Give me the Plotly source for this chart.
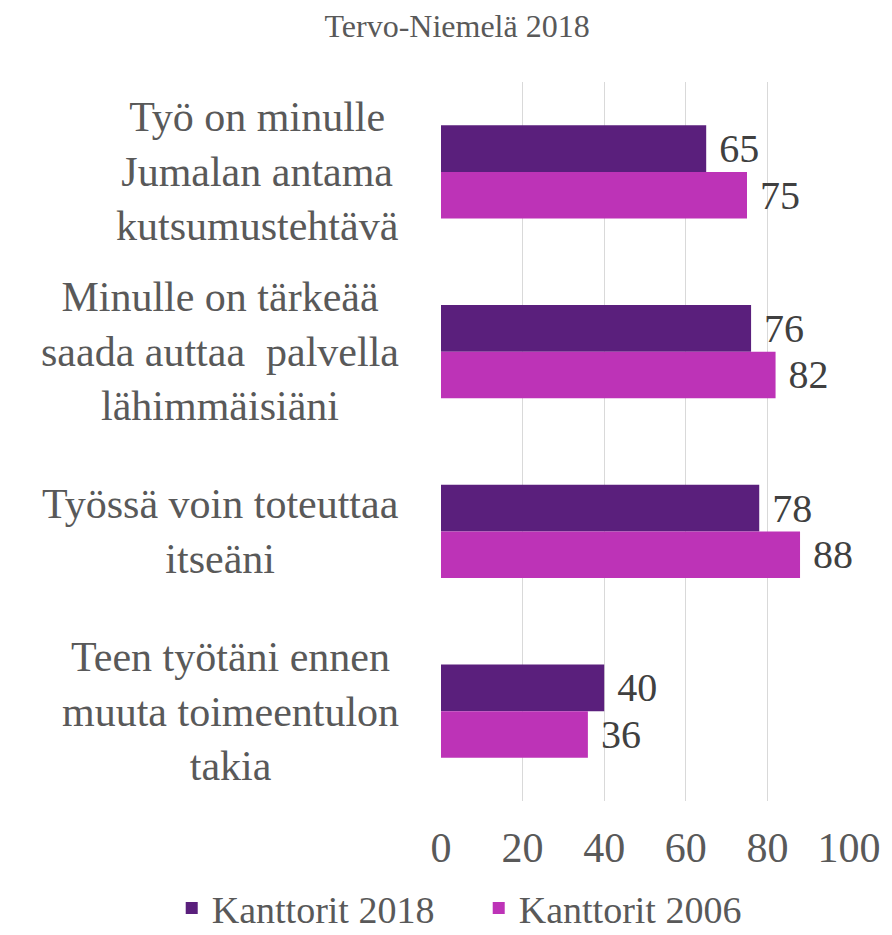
import plotly.graph_objects as go

categories = [
    "Työ on minulle<br>Jumalan antama<br>kutsumustehtävä",
    "Minulle on tärkeää<br>saada auttaa  palvella<br>lähimmäisiäni",
    "Työssä voin toteuttaa<br>itseäni",
    "Teen työtäni ennen<br>muuta toimeentulon<br>takia",
]
cat_ids = ["c1", "c2", "c3", "c4"]
kanttorit_2018 = [65, 76, 78, 40]
kanttorit_2006 = [75, 82, 88, 36]
series_names = ["Kanttorit 2018", "Kanttorit 2006"]
colors = ["#5A1F7C", "#BD33B7"]
tick_vals = [0, 20, 40, 60, 80, 100]

FONT = "Liberation Serif"
fig = go.Figure()
for name, vals, col in zip(series_names, [kanttorit_2018, kanttorit_2006], colors):
    fig.add_trace(go.Bar(
        y=cat_ids, x=vals, orientation="h", name=name,
        marker=dict(color=col, line=dict(width=0)),
        text=vals, texttemplate=" %{x}", textposition="outside",
        textfont=dict(family=FONT, size=40, color="#404040"),
        cliponaxis=False,
    ))

for cid, label in zip(cat_ids, categories):
    fig.add_annotation(
        x=-0.098, xref="paper", y=cid, yref="y", text=label,
        xanchor="right", yanchor="middle", align="center", showarrow=False,
        font=dict(family=FONT, size=42, color="#595959"),
    )

# page body adds an 8px offset; size the figure so the plot area lands where it should
fig.update_layout(
    width=884, height=927,
    margin=dict(l=433, r=43, t=74, b=134, autoexpand=False),
    paper_bgcolor="white", plot_bgcolor="white",
    barmode="group", bargap=0.48, bargroupgap=0,
    title=dict(text="Tervo-Niemelä 2018", x=0.508, xanchor="center", y=0.993, yanchor="top",
               font=dict(family=FONT, size=32, color="#595959")),
    xaxis=dict(range=[0, 100], tickvals=tick_vals, showgrid=True, gridcolor="#D9D9D9", gridwidth=1.3,
               zeroline=False, showline=False, ticks="",
               tickfont=dict(family=FONT, size=42, color="#595959"), ticklabelstandoff=18),
    yaxis=dict(categoryorder="array", categoryarray=cat_ids, autorange="reversed",
               showticklabels=False, showgrid=False, zeroline=False, showline=False, ticks=""),
    legend=dict(orientation="h", x=-0.66, xanchor="left", y=-0.193, yanchor="bottom",
                font=dict(family=FONT, size=38, color="#595959"),
                entrywidth=262, traceorder="normal"),
    showlegend=True,
)
fig.write_html("out.html")
